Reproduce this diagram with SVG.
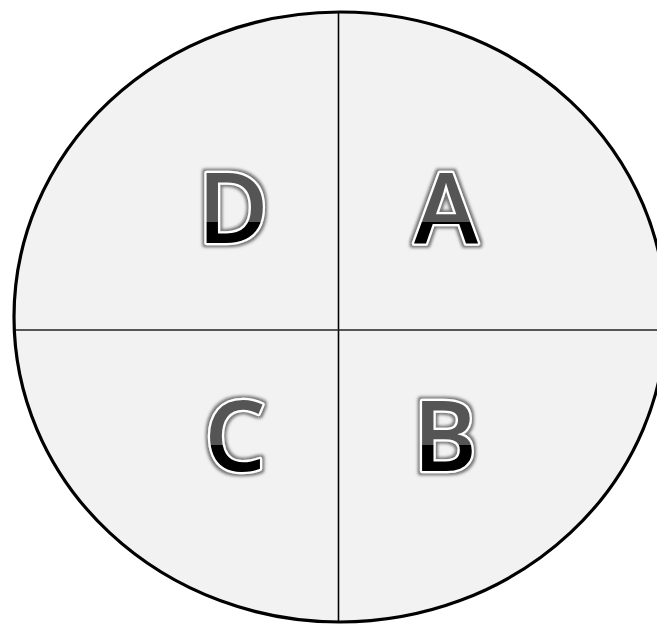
<svg xmlns="http://www.w3.org/2000/svg" width="657" height="626" viewBox="0 0 657 626">
  <defs>
    <linearGradient id="gTop" gradientUnits="userSpaceOnUse" x1="0" y1="175" x2="0" y2="245">
      <stop offset="0" stop-color="#555"/>
      <stop offset="0.67" stop-color="#555"/>
      <stop offset="0.67" stop-color="#000"/>
      <stop offset="1" stop-color="#000"/>
    </linearGradient>
    <linearGradient id="gBot" gradientUnits="userSpaceOnUse" x1="0" y1="400" x2="0" y2="472">
      <stop offset="0" stop-color="#555"/>
      <stop offset="0.625" stop-color="#555"/>
      <stop offset="0.625" stop-color="#000"/>
      <stop offset="1" stop-color="#000"/>
    </linearGradient>
    <filter id="glow" x="-30%" y="-30%" width="160%" height="160%">
      <feMorphology in="SourceAlpha" operator="dilate" radius="1.5" result="d"/>
      <feGaussianBlur in="d" stdDeviation="1.6" result="b"/>
      <feFlood flood-color="#666" flood-opacity="0.9"/>
      <feComposite in2="b" operator="in" result="s"/>
      <feMerge>
        <feMergeNode in="s"/>
        <feMergeNode in="SourceGraphic"/>
      </feMerge>
    </filter>
  </defs>
  <style>
    .lbl { font-family: "Open Sans", "DejaVu Sans", sans-serif; font-weight: 600; font-size: 97px; text-anchor: middle; stroke: #fff; stroke-width: 4.5; stroke-linejoin: round; paint-order: stroke; }
  </style>
  <g id="circle">
    <ellipse cx="340" cy="317" rx="326" ry="305" fill="#f2f2f2" stroke="none"/>
  </g>
  <g id="connectors">
    <line x1="338.5" y1="13" x2="338.5" y2="622" stroke="#000" stroke-width="1.6"/>
    <line x1="14" y1="330" x2="657" y2="330" stroke="#222" stroke-width="1.6"/>
  </g>
  <g id="outline">
    <ellipse cx="340" cy="317" rx="326" ry="305" fill="none" stroke="#000" stroke-width="3.2"/>
  </g>
  <g id="node-D" filter="url(#glow)">
    <text class="lbl" x="233" y="243" fill="url(#gTop)">D</text>
  </g>
  <g id="node-A" filter="url(#glow)">
    <text class="lbl" x="446" y="243" fill="url(#gTop)">A</text>
  </g>
  <g id="node-C" filter="url(#glow)">
    <text class="lbl" x="235" y="471" fill="url(#gBot)">C</text>
  </g>
  <g id="node-B" filter="url(#glow)">
    <text class="lbl" x="445" y="471" fill="url(#gBot)">B</text>
  </g>
</svg>
